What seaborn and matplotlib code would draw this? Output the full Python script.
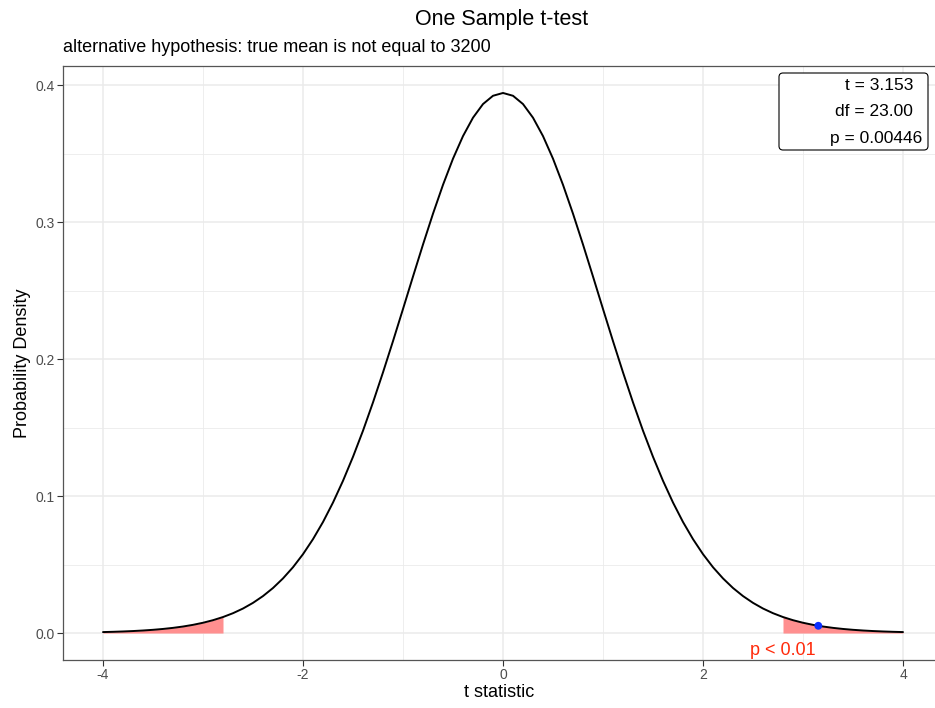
import numpy as np
import pandas as pd
import matplotlib
matplotlib.use("Agg")
import matplotlib.pyplot as plt
from matplotlib.patches import FancyBboxPatch
import seaborn as sns

# densidade t (df = 23), passo de 0.1 (lado esquerdo, -4.0 .. -0.1)
t_values = np.round(np.arange(-4.0, 4.01, 0.1), 1)
half_density = [
    0.00070, 0.00089, 0.00114, 0.00145, 0.00185, 0.00235, 0.00298, 0.00377,
    0.00475, 0.00598, 0.00750, 0.00938, 0.01168, 0.01449, 0.0179, 0.02204,
    0.0270, 0.03289, 0.0399, 0.04806, 0.0576, 0.06858, 0.0811, 0.09532,
    0.1112, 0.12873, 0.1478, 0.16847, 0.1904, 0.21323, 0.2367, 0.26041,
    0.2838, 0.30632, 0.3274, 0.34650, 0.3630, 0.37644, 0.3864, 0.39245,
]
peak_density = 0.3945
density = half_density + [peak_density] + half_density[::-1]

t_stat = 3.153
t_stat_density = 0.0053
crit_value = 2.8

stats_lines = ["t = 3.153", "df = 23.00", "p = 0.00446"]
p_label = "p < 0.01"

title = "One Sample t-test"
subtitle = "alternative hypothesis: true mean is not equal to 3200"
x_ticks = [-4, -2, 0, 2, 4]
y_ticks = [0.0, 0.1, 0.2, 0.3, 0.4]

W, H = 935, 708


def px(x, y):
    # pixel (origem no topo) -> coordenadas da figura
    return x / W, 1 - y / H


def main():
    sns.set_theme(style="white")
    plt.rcParams["font.family"] = ["Liberation Sans", "DejaVu Sans"]

    df = pd.DataFrame({"t": t_values, "dens": density})

    fig = plt.figure(figsize=(W / 100, H / 100), dpi=100)
    ax = fig.add_axes([63 / W, (H - 660) / H, (W - 63) / W, (660 - 66) / H])

    # grade no estilo theme_bw
    for v in [-3, -1, 1, 3]:
        ax.axvline(v, color="#EBEBEB", lw=0.6, zorder=0)
    for v in [0.05, 0.15, 0.25, 0.35]:
        ax.axhline(v, color="#EBEBEB", lw=0.6, zorder=0)
    for v in x_ticks:
        ax.axvline(v, color="#EBEBEB", lw=1.1, zorder=0)
    for v in y_ticks:
        ax.axhline(v, color="#EBEBEB", lw=1.1, zorder=0)

    # caudas
    tail = np.abs(df["t"]) >= crit_value
    left = df[tail & (df["t"] < 0)]
    right = df[tail & (df["t"] > 0)]
    for part in (left, right):
        ax.fill_between(part["t"], 0, part["dens"], color="#FF8F8F",
                        lw=0, zorder=1)

    sns.lineplot(data=df, x="t", y="dens", color="black", lw=1.4,
                 ax=ax, zorder=2)
    sns.scatterplot(x=[t_stat], y=[t_stat_density], color="#0A2EFF",
                    s=32, edgecolor="none", ax=ax, zorder=3)

    ax.text(crit_value, -0.0065, p_label, color="#FF2A0A", fontsize=13,
            ha="center", va="top")

    ax.set_xlim(-4.4, 4.32)
    ax.set_ylim(-0.0197, 0.4142)
    ax.set_xticks(x_ticks)
    ax.set_xticklabels([str(v) for v in x_ticks])
    ax.set_yticks(y_ticks)
    ax.set_yticklabels([f"{v:.1f}" for v in y_ticks])
    ax.tick_params(axis="both", length=4, width=0.8, color="#333333",
                   labelcolor="#4D4D4D", labelsize=10, pad=2,
                   bottom=True, left=True)
    ax.grid(False)

    for side in ["left", "bottom", "top"]:
        ax.spines[side].set_visible(True)
        ax.spines[side].set_color("#555555")
        ax.spines[side].set_linewidth(0.9)
    ax.spines["right"].set_visible(False)

    ax.set_xlabel("t statistic", fontsize=13, labelpad=1, color="black")
    ax.set_ylabel("Probability Density", fontsize=13, labelpad=3,
                  color="black")

    # caixa com as estatísticas
    box = FancyBboxPatch((779, H - 150), 149, 77, transform=None,
                         boxstyle="round,pad=0,rounding_size=4",
                         fc="white", ec="black", lw=0.8, zorder=5)
    fig.patches.append(box)
    right_edges = [913, 913, 922]
    centers = [86, 112, 138]
    for line, xr, yc in zip(stats_lines, right_edges, centers):
        fig.text(*px(xr, yc), line, fontsize=12.5, ha="right",
                 va="center", color="black", zorder=6)

    fig.text(*px(502, 20), title, fontsize=15.5, ha="center",
             va="center", color="black")
    fig.text(*px(63, 47), subtitle, fontsize=13, ha="left",
             va="center", color="black")

    fig.savefig("out.png", dpi=100)
    plt.close(fig)


if __name__ == "__main__":
    main()
